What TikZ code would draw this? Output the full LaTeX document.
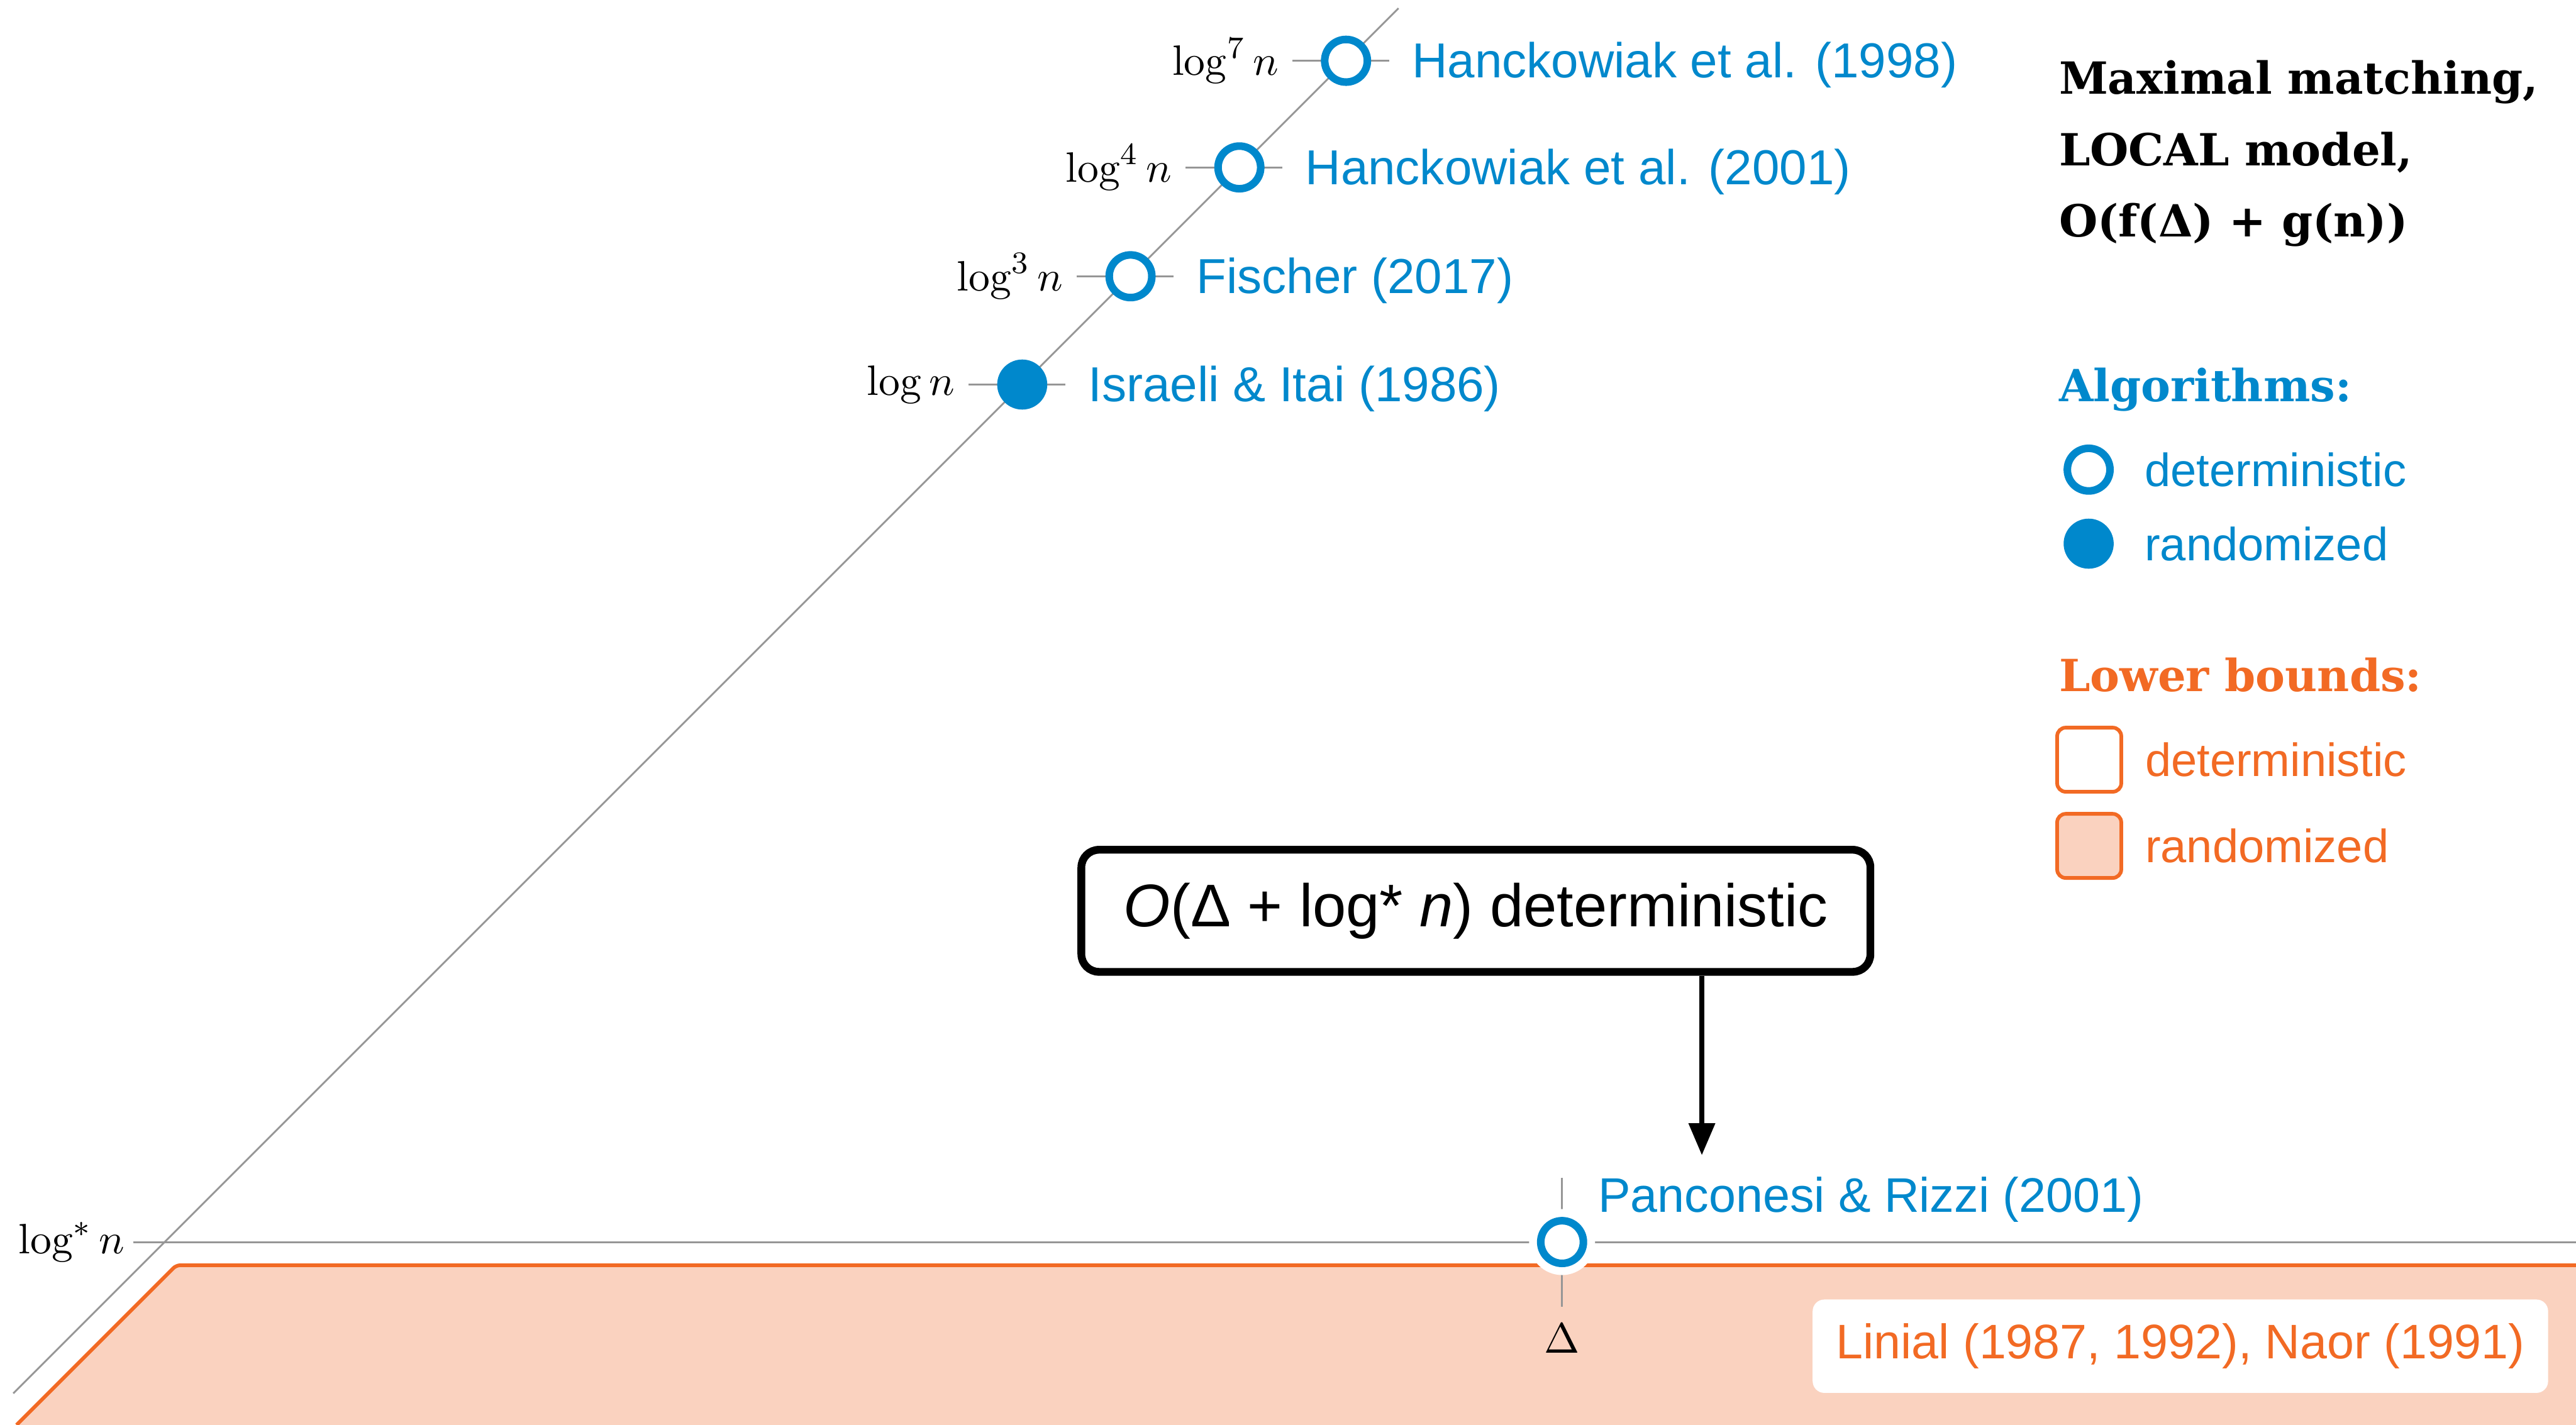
\documentclass[tikz,border=0pt]{standalone}
\usepackage[no-math]{fontspec}
\setmainfont{Liberation Sans}
\newfontfamily\slabfont{DejaVu Serif}
\usetikzlibrary{arrows.meta,positioning}
\definecolor{algblue}{RGB}{0,136,204}
\definecolor{lborange}{RGB}{242,106,36}
\definecolor{lbfill}{RGB}{250,210,191}
\definecolor{rulegrey}{RGB}{150,150,150}

\begin{document}
\begin{tikzpicture}[
	det_style/.style={circle, draw=algblue, line width=1.95pt, fill=white, minimum size=0.386cm, inner sep=0pt},
	rand_style/.style={circle, fill=algblue, minimum size=0.453cm, inner sep=0pt},
	halo/.style={preaction={draw=white, line width=6pt}},
	tick_style/.style={rulegrey, line width=0.5pt},
	label_style/.style={font=\fontsize{10.8}{13}\selectfont, inner sep=2pt},
	ref_style/.style={font=\fontsize{12.65}{15}\selectfont, text=algblue, inner sep=2pt},
	key_style/.style={font=\fontsize{12}{14}\selectfont, inner sep=0pt},
	head_style/.style={font=\slabfont\bfseries\fontsize{11.4}{18.4}\selectfont, anchor=west, inner sep=0pt, align=left},
	lb_style/.style={rectangle, rounded corners=2.2pt, draw=lborange, line width=0.95pt, minimum size=0.58cm, inner sep=0pt}]

	\useasboundingbox (0,0) rectangle (23.31,12.895);

	% lower bound region
	\fill[lbfill] (0.15,0) -- (1.595,1.445) -- (23.4,1.445) -- (23.4,0) -- cycle;
	\draw[lborange, line width=0.95pt, rounded corners=1pt] (0.15,0) -- (1.595,1.445) -- (23.4,1.445);

	% axes
	\coordinate (d0) at (0.12,0.285);
	\coordinate (d1) at (12.655,12.82);
	\draw[rulegrey, line width=0.45pt] (d0) -- (d1);
	\coordinate (ls) at (1.205,1.655);
	\coordinate (le) at (23.4,1.655);
	\draw[tick_style] (ls) -- (le);
	\node[label_style, anchor=east] (lslabel) at (ls) {$\log^* n$};

	% algorithms on the diagonal
	\foreach \y/\kind/\rate/\who [count=\i] in {
		9.415/rand_style/{$\log n$}/{Israeli \& Itai (1986)},
		10.395/det_style/{$\log^3 n$}/{Fischer (2017)},
		11.38/det_style/{$\log^4 n$}/{Hanckowiak et al. (2001)},
		12.345/det_style/{$\log^7 n$}/{Hanckowiak et al. (1998)}}{
		\coordinate (a\i) at (\y-0.165,\y);
		\draw[tick_style] ([xshift=-0.485cm]a\i) -- ([xshift=0.39cm]a\i);
		\node[\kind] (alg\i) at (a\i) {};
		\node[label_style, anchor=east] (rate\i) at ([xshift=-0.535cm]a\i) {\rate};
		\node[ref_style, anchor=west] (who\i) at ([xshift=0.52cm, yshift=-0.04cm]a\i) {\who};
	}

	% Panconesi & Rizzi
	\coordinate (pr) at (14.135,1.655);
	\draw[tick_style] ([yshift=0.583cm]pr) -- ([yshift=-0.583cm]pr);
	\node[det_style, halo] (alg5) at (pr) {};
	\node[ref_style, anchor=base west, font=\fontsize{12.5}{15}\selectfont] (who5) at ([xshift=0.25cm, yshift=0.27cm]pr) {Panconesi \& Rizzi (2001)};
	\node[label_style] (delta) at ([yshift=-0.875cm]pr) {$\Delta$};

	% upper bound callout
	\node[draw, line width=2pt, rounded corners=0.16cm, fill=white, minimum width=7.14cm, minimum height=1.105cm,
		font=\fontsize{15.5}{18}\selectfont] (bound) at (13.355,4.6525) {{\itshape O}(Δ + log* {\itshape n}) deterministic};
	\coordinate (tip) at (15.4,2.44);
	\draw[-{Triangle[length=0.29cm,width=0.23cm]}, line width=1.4pt] (bound.south -| tip) -- (tip);

	% lower bound reference
	\node[fill=white, rounded corners=3pt, minimum width=6.655cm, minimum height=0.845cm, text=lborange,
		font=\fontsize{12.5}{15}\selectfont] (lb) at (19.73,0.7125) {Linial (1987, 1992), Naor (1991)};

	% legend
	\node[head_style] (title) at (18.625,11.505) {Maximal matching,\\LOCAL model,\\O(f(Δ) + g(n))};
	\node[head_style, text=algblue] (algs) at (18.625,9.37) {Algorithms:};
	\node[det_style] (keydet) at (18.9,8.645) {};
	\node[key_style, text=algblue, right=0.5cm of keydet.center, anchor=west] {deterministic};
	\node[rand_style] (keyrand) at (18.9,7.975) {};
	\node[key_style, text=algblue, right=0.5cm of keyrand.center, anchor=west] {randomized};
	\node[head_style, text=lborange] (lbs) at (18.625,6.785) {Lower bounds:};
	\node[lb_style, fill=white] (keylbdet) at (18.905,6.02) {};
	\node[key_style, text=lborange, right=0.5cm of keylbdet.center, anchor=west] {deterministic};
	\node[lb_style, fill=lbfill] (keylbrand) at (18.905,5.24) {};
	\node[key_style, text=lborange, right=0.5cm of keylbrand.center, anchor=west] {randomized};
\end{tikzpicture}
\end{document}
